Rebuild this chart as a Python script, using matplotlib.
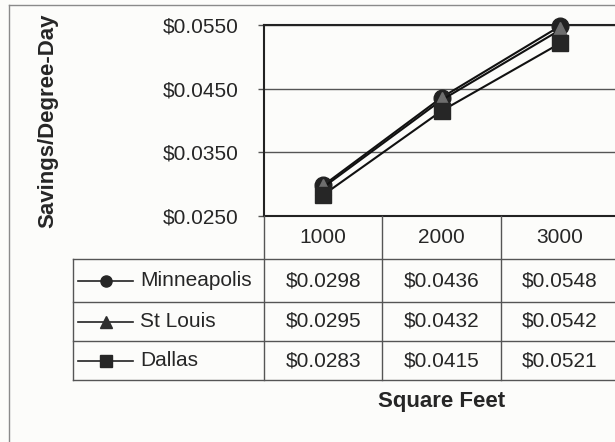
"""Savings per degree-day by house size, line chart with an attached data table."""

import matplotlib.pyplot as plt
from matplotlib.lines import Line2D
from matplotlib.transforms import blended_transform_factory

W, H = 615, 442

square_feet = ["1000", "2000", "3000"]
cities = ["Minneapolis", "St Louis", "Dallas"]
minneapolis = [0.0298, 0.0436, 0.0548]
st_louis = [0.0295, 0.0432, 0.0542]
dallas = [0.0283, 0.0415, 0.0521]
y_ticks = [0.0250, 0.0350, 0.0450, 0.0550]

series = [minneapolis, st_louis, dallas]
markers = ["o", "^", "s"]
plot_face = ["#222222", "#6e6e6e", "#262626"]

plt.rcParams["font.family"] = ["Liberation Sans", "DejaVu Sans"]
text_color = "#262626"
bg = "#fcfcfa"


def fx(x):
    return x / W


def fy(y):
    return 1 - y / H


fig = plt.figure(figsize=(W / 100, H / 100), dpi=100, facecolor=bg)

# outer chart frame (only top and left edges fall inside the canvas)
fig.add_artist(Line2D([fx(8.5), 1.0], [fy(4.5), fy(4.5)], transform=fig.transFigure,
                      color="#8a8a8a", lw=1))
fig.add_artist(Line2D([fx(8.5), fx(8.5)], [fy(4.5), 0.0], transform=fig.transFigure,
                      color="#8a8a8a", lw=1))

ax_left, ax_right, ax_top, ax_bottom = 264, 619, 25, 216
ax = fig.add_axes([fx(ax_left), fy(ax_bottom), fx(ax_right - ax_left),
                   (ax_bottom - ax_top) / H])
ax.set_facecolor(bg)

x = list(range(len(square_feet)))
for vals, m, fc in zip(series, markers, plot_face):
    ax.plot(x, vals, color="#111111", lw=1.5, marker=m, markersize=12,
            markerfacecolor=fc, markeredgecolor=fc, clip_on=False, zorder=3)

ax.set_xlim(-0.5, len(square_feet) - 0.5)
ax.set_ylim(y_ticks[0], y_ticks[-1])
ax.set_xticks([])
ax.set_yticks(y_ticks)
ax.set_yticklabels([f"${v:.4f}" for v in y_ticks], fontsize=15, color=text_color)
ax.tick_params(axis="y", length=4.3, width=1, color="#555555", pad=14)
ax.grid(axis="y", color="#555555", lw=1)
for sp in ax.spines.values():
    sp.set_color("#222222")
    sp.set_linewidth(1.5)

ax.set_ylabel("Savings/Degree-Day", fontsize=16, fontweight="bold",
              color=text_color)
ax.yaxis.set_label_coords((58 - ax_left) / (ax_right - ax_left), 0.5)

# data table below the plot
tr = blended_transform_factory(ax.transData, fig.transFigure)
line_kw = dict(color="#555555", lw=1, clip_on=False)
row_lines = [259, 302, 341, 380]
table_left = 73

for xb in [-0.5, 0.5, 1.5]:
    fig.add_artist(Line2D([xb, xb], [fy(ax_bottom), fy(row_lines[-1])],
                          transform=tr, **line_kw))
fig.add_artist(Line2D([fx(table_left)] * 2, [fy(row_lines[0]), fy(row_lines[-1])],
                      transform=fig.transFigure, **line_kw))
for yl in row_lines:
    fig.add_artist(Line2D([fx(table_left), 1.0], [fy(yl), fy(yl)],
                          transform=fig.transFigure, **line_kw))

header_y = (ax_bottom + row_lines[0]) / 2
for xi, lab in zip(x, square_feet):
    fig.text(xi, fy(header_y), lab, transform=tr, ha="center", va="center",
             fontsize=15, color=text_color)

legend_face = ["#262626", "#2e2e2e", "#262626"]
for r, (city, vals, m, fc) in enumerate(zip(cities, series, markers, legend_face)):
    yc = fy((row_lines[r] + row_lines[r + 1]) / 2)
    fig.add_artist(Line2D([fx(78), fx(133)], [yc, yc], transform=fig.transFigure,
                          color="#222222", lw=1.2))
    fig.add_artist(Line2D([fx(106)], [yc], transform=fig.transFigure, marker=m,
                          markersize=8, color=fc, lw=0))
    fig.text(fx(140), yc, city, ha="left", va="center", fontsize=15,
             color=text_color)
    for xi, v in zip(x, vals):
        fig.text(xi, yc, f"${v:.4f}", transform=tr, ha="center", va="center",
                 fontsize=15, color=text_color)

fig.text(1, fy(402), "Square Feet", transform=tr, ha="center", va="center",
         fontsize=16, fontweight="bold", color=text_color)

fig.savefig("out.png", dpi=100, facecolor=bg)
